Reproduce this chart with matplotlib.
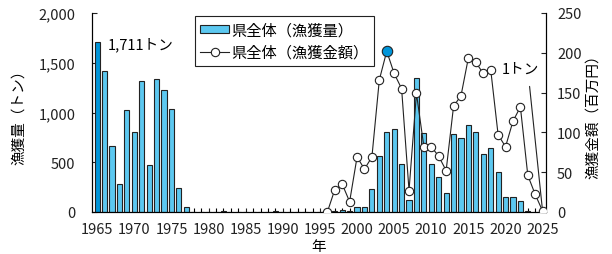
import matplotlib
matplotlib.use("Agg")
import matplotlib.pyplot as plt
from matplotlib.ticker import MultipleLocator, FuncFormatter
from matplotlib.lines import Line2D
from matplotlib.patches import Patch

plt.rcParams['font.family'] = ['Noto Sans CJK JP', 'DejaVu Sans']

years = list(range(1965, 2026))
catch_t = [1711, 1420, 663, 280, 1030, 803, 1320, 470, 1337, 1223,
           1037, 240, 47, 3, 2, 3, 2, 8, 2, 2,
           2, 3, 2, 4, 8, 3, 2, 3, 2, 3,
           4, 8, 12, 20, 12, 53, 53, 230, 563, 803,
           830, 480, 123, 1347, 797, 480, 347, 190, 780, 740,
           870, 803, 587, 640, 407, 147, 147, 107, 15, 5,
           1]
value_years = list(range(1996, 2026))
value_m = [0, 28, 35, 13, 69, 54, 69, 166, 202, 174,
           155, 27, 149, 82, 82, 70, 52, 133, 146, 194,
           188, 174, 179, 97, 82, 114, 132, 46, 22, 1]

bar_label = "県全体（漁獲量）"
line_label = "県全体（漁獲金額）"
xticks = list(range(1965, 2026, 5))

light_blue = "#5CC8F0"
dark_blue = "#0095D9"

fig = plt.figure(figsize=(6.12, 2.55), dpi=100)
ax = fig.add_axes([92/612, 1-213/255, (546-92)/612, (213-14)/255])
ax2 = ax.twinx()

max_i = catch_t.index(max(catch_t))
colors = [dark_blue if i == max_i else light_blue for i in range(len(years))]
ax.bar(years, catch_t, width=0.7, color=colors, edgecolor="#222222", linewidth=0.8, zorder=2)

vmax_i = value_m.index(max(value_m))
ax2.plot(value_years, value_m, color="#222222", lw=0.8, marker="o", ms=6,
         mfc="white", mec="#222222", mew=0.8, zorder=3)
ax2.plot([value_years[vmax_i]], [value_m[vmax_i]], marker="o", ms=7.5, mfc=dark_blue,
         mec="#222222", mew=0.8, ls="none", zorder=4)

ax.set_xlim(1964.3, 2025.45)
ax.set_ylim(0, 2000)
ax2.set_ylim(0, 250)

ax.set_xticks(xticks)
ax.xaxis.set_minor_locator(MultipleLocator(1))
ax.yaxis.set_major_locator(MultipleLocator(500))
ax2.yaxis.set_major_locator(MultipleLocator(50))
ax.yaxis.set_major_formatter(FuncFormatter(lambda v, p: f"{int(v):,}"))

for a in (ax, ax2):
    a.spines['top'].set_visible(False)
    a.tick_params(direction='in', length=3.5, width=0.8, labelsize=10.5, colors="#222222")
ax.tick_params(axis='x', which='both', direction='in', length=3, width=0.8, pad=7)
ax.tick_params(axis='y', pad=12)
ax2.tick_params(axis='y', pad=8)

ax.set_ylabel("漁獲量（トン）", fontsize=10.5, labelpad=9)
ax2.set_ylabel("漁獲金額（百万円）", fontsize=10.5, labelpad=3)
ax.set_xlabel("年", fontsize=10.5, labelpad=2)

ax.text(1970.9, 1690, "1,711トン", fontsize=10.5, ha="center", va="center")
ax.text(2022.0, 1440, "1トン", fontsize=10.5, ha="center", va="center")
ax.annotate("", xy=(2025, 1), xytext=(2023.2, 1290),
            arrowprops=dict(arrowstyle="-", color="#222222", lw=0.8))

handles = [Patch(facecolor=light_blue, edgecolor="#222222", linewidth=0.8),
           Line2D([0], [0], color="#222222", lw=0.8, marker="o", ms=6, mfc="white",
                  mec="#222222", mew=0.8)]
leg = ax2.legend(handles, [bar_label, line_label], loc="upper left",
                 bbox_to_anchor=(195/612, 1-17/255), bbox_transform=fig.transFigure,
                 fontsize=11, frameon=True, fancybox=False, framealpha=1,
                 edgecolor="#222222", borderpad=0.35, labelspacing=0.35,
                 handlelength=1.9, handleheight=0.5, handletextpad=0.15, borderaxespad=0)
leg.get_frame().set_linewidth(0.8)

fig.savefig("out.png", dpi=100)
